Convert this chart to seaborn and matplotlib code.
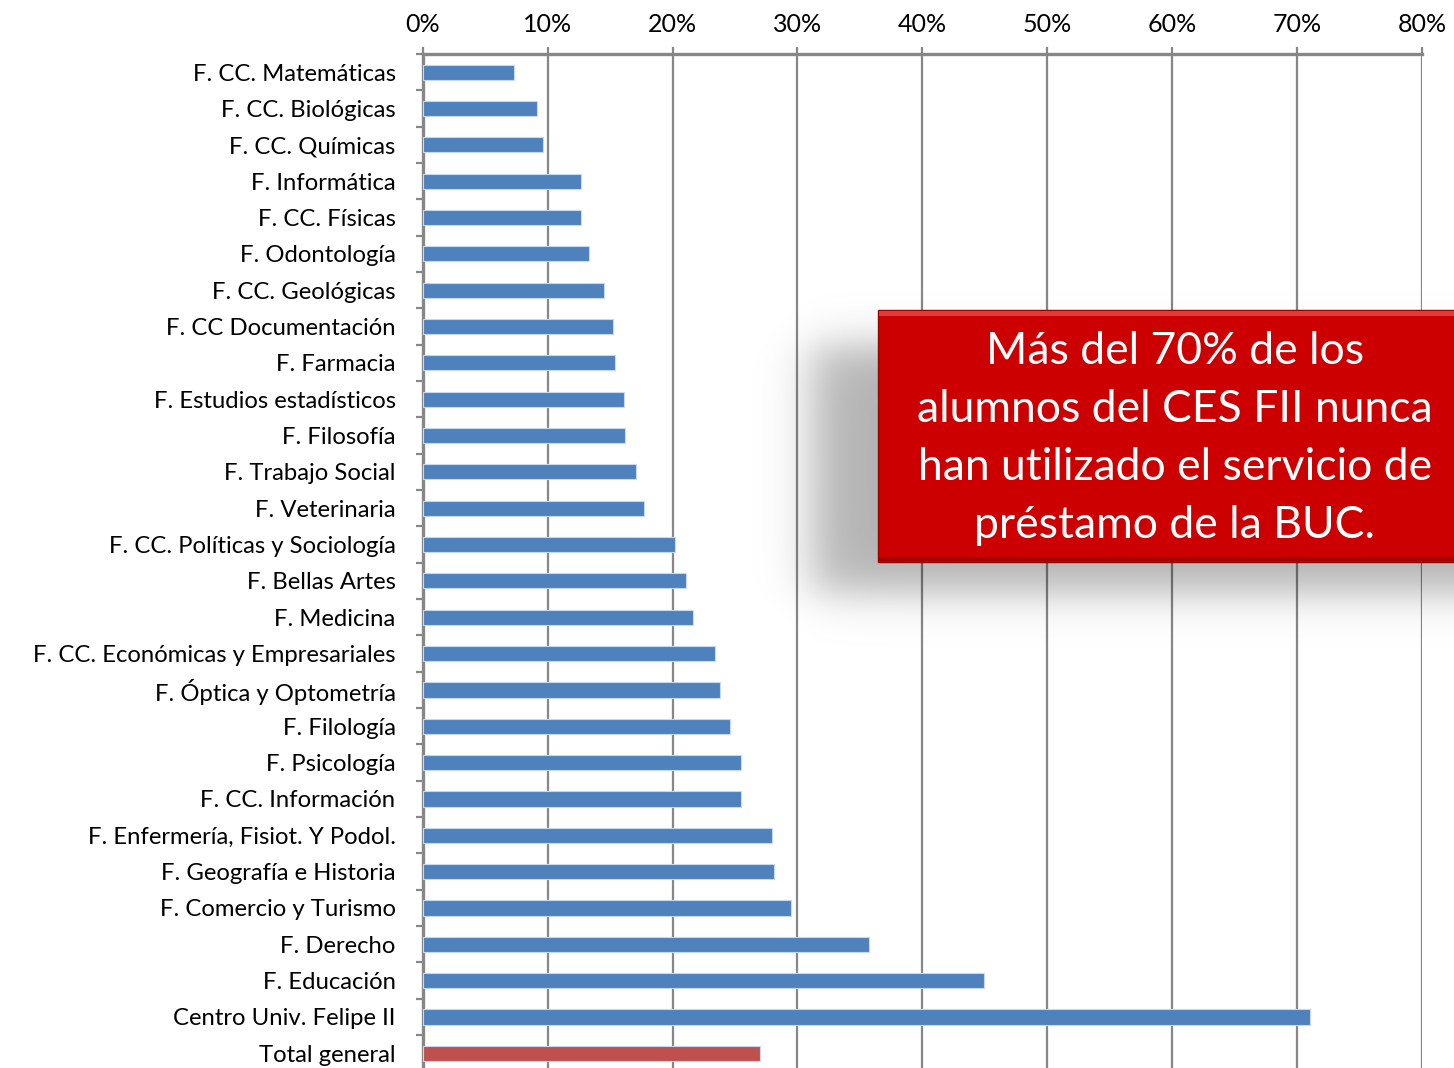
import numpy as np
import pandas as pd
import seaborn as sns
import matplotlib.pyplot as plt
from matplotlib.patches import Rectangle
from matplotlib.ticker import FixedLocator, FuncFormatter

# datos (% de alumnos)
facultades = [
    "F. CC. Matemáticas", "F. CC. Biológicas", "F. CC. Químicas", "F. Informática",
    "F. CC. Físicas", "F. Odontología", "F. CC. Geológicas", "F. CC Documentación",
    "F. Farmacia", "F. Estudios estadísticos", "F. Filosofía", "F. Trabajo Social",
    "F. Veterinaria", "F. CC. Políticas y Sociología", "F. Bellas Artes", "F. Medicina",
    "F. CC. Económicas y Empresariales", "F. Óptica y Optometría", "F. Filología",
    "F. Psicología", "F. CC. Información", "F. Enfermería, Fisiot. Y Podol.",
    "F. Geografía e Historia", "F. Comercio y Turismo", "F. Derecho", "F. Educación",
    "Centro Univ. Felipe II", "Total general",
]
porcentajes = [
    7.3, 9.15, 9.65, 12.7, 12.7, 13.35, 14.5, 15.2, 15.4, 16.1, 16.2, 17.05,
    17.7, 20.2, 21.1, 21.6, 23.4, 23.8, 24.6, 25.5, 25.5, 28.0, 28.1, 29.5,
    35.7, 44.9, 71.0, 27.0,
]
xticks_pct = [0, 10, 20, 30, 40, 50, 60, 70, 80]
mensaje = ["Más del 70% de los", "alumnos del CES FII nunca",
           "han utilizado el servicio de", "préstamo de la BUC."]

colores = ["#C0504D" if f == "Total general" else "#4F81BD" for f in facultades]
df = pd.DataFrame({"facultad": facultades, "pct": porcentajes})

sns.set_theme(style="white")
plt.rcParams["font.family"] = ["Lato", "DejaVu Sans"]

W, H = 1454, 1068
fig = plt.figure(figsize=(W / 100, H / 100), dpi=100)
top_px, bot_px = 54, 1071.4
ax = fig.add_axes([422.7 / W, 1 - bot_px / H, (1422 - 422.7) / W, (bot_px - top_px) / H])

sns.barplot(data=df, x="pct", y="facultad", hue="facultad", palette=colores,
            legend=False, orient="h", width=0.42, saturation=1,
            edgecolor="#c6d9f1", linewidth=0.8, ax=ax, zorder=3)

gris = "#878787"
ax.set_xlim(0, 80)
ax.set_ylim(len(facultades) - 0.5, -0.5)
ax.xaxis.set_major_locator(FixedLocator(xticks_pct))
ax.xaxis.set_major_formatter(FuncFormatter(lambda v, p: f"{v:.0f}%"))
ax.xaxis.tick_top()
ax.grid(axis="x", color=gris, linewidth=1.6, zorder=0)
ax.grid(axis="y", visible=False)
ax.set_axisbelow(True)
ax.set_xlabel("")
ax.set_ylabel("")

for s in ["right", "bottom"]:
    ax.spines[s].set_visible(False)
ax.spines["top"].set_color(gris)
ax.spines["top"].set_linewidth(2.4)
ax.spines["left"].set_color(gris)
ax.spines["left"].set_linewidth(2.4)

ax.tick_params(axis="x", top=True, bottom=False, length=5, width=1.6, color=gris,
               labelsize=18, pad=8, labelcolor="black")
ax.tick_params(axis="y", which="major", length=0, labelsize=17.2, pad=19.5, labelcolor="black")
ax.yaxis.set_minor_locator(FixedLocator(np.arange(-0.5, len(facultades), 1.0)))
ax.tick_params(axis="y", which="minor", left=True, length=5, width=1.6, color=gris)

# recuadro con el mensaje, en coordenadas de pixel
ov = fig.add_axes([0, 0, 1, 1])
ov.set_xlim(0, W)
ov.set_ylim(H, 0)
ov.axis("off")

xs = np.arange(700, W + 1)
ys = np.arange(280, 660)
fx = 0.5 * (np.tanh((xs - 812) / 28) + 1)
fy = 0.5 * (np.tanh((ys - 345) / 25) - np.tanh((ys - 592) / 25))
alpha = 0.30 * np.outer(fy, fx)
sombra = np.zeros((len(ys), len(xs), 4))
sombra[..., 3] = alpha
ov.imshow(sombra, extent=(700, W + 1, 660, 280), origin="upper", zorder=1, aspect="auto")

bx, by, bw, bh = 878, 310, W - 878 + 10, 252
ov.add_patch(Rectangle((bx, by), bw, bh, facecolor="#CC0000", edgecolor="#9a0000",
                       linewidth=1.0, zorder=2))
ov.add_patch(Rectangle((bx + 1, by + 1), bw, 5, facecolor="#e23a3a", edgecolor="none", zorder=3))
ov.add_patch(Rectangle((bx + 1, by + bh - 5), bw, 4, facecolor="#a00000", edgecolor="none", zorder=3))

for i, linea in enumerate(mensaje):
    ov.text(1175, 351 + i * 58, linea, color="white", fontsize=32,
            ha="center", va="center", zorder=4)

fig.savefig("out.png", dpi=100)
